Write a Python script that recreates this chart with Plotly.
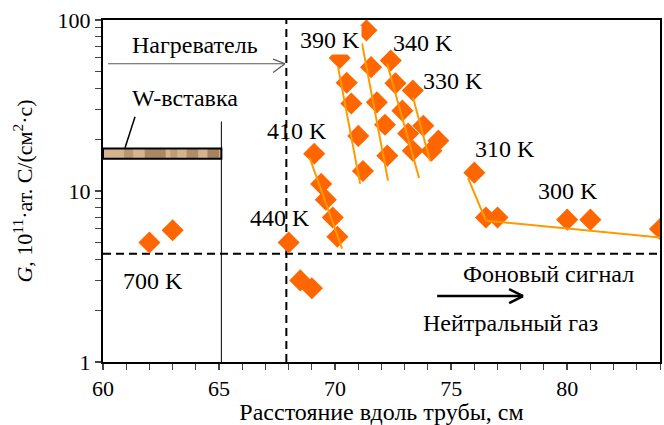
import math
import plotly.graph_objects as go

# ---------------- data ----------------
x_700 = [62.0, 63.0]
g_700 = [5.0, 5.9]

x_440 = [68.0, 68.5, 69.0]
g_440 = [5.0, 3.0, 2.7]

x_410 = [69.1, 69.4, 69.6, 69.9, 70.1]
g_410 = [16.5, 11.0, 8.9, 7.0, 5.4]

x_390 = [70.2, 70.5, 70.7, 71.0, 71.2]
g_390 = [60.0, 43.0, 32.5, 21.0, 13.1]

x_360 = [71.35, 71.55, 71.8, 72.15, 72.25]
g_360 = [87.0, 53.0, 33.0, 24.4, 16.1]

x_340 = [72.4, 72.6, 72.9, 73.15, 73.35]
g_340 = [58.0, 42.6, 29.5, 21.7, 17.2]

x_330 = [73.35, 73.8, 74.45, 74.15]
g_330 = [38.7, 24.1, 19.7, 17.2]

x_300 = [76.0, 76.5, 77.0, 80.0, 81.0, 84.0]
g_300 = [12.8, 7.0, 7.0, 6.8, 6.8, 6.0]

# fitted trend lines
fit_410_x = [68.9, 70.3]
fit_410_g = [15.7, 4.6]
fit_390_x = [70.13, 71.08]
fit_390_g = [52.8, 11.0]
fit_360_x = [71.16, 72.28]
fit_360_g = [73.0, 11.5]
fit_340_x = [72.24, 73.62]
fit_340_g = [55.7, 11.9]
fit_330_x = [73.36, 74.09]
fit_330_g = [35.2, 15.0]
fit_300_x = [75.73, 76.5, 84.0]
fit_300_g = [11.9, 6.7, 5.35]

# reference levels
background_level = 4.3
heater_end = 67.9
w_insert_end = 65.1
w_insert_low = 15.45
w_insert_high = 17.7

x_ticks = [60, 65, 70, 75, 80]
y_ticks = [1, 10, 100]
y_tick_text = ["1", "10", "100"]

labels = [
    ("390 K", 69.78, 76.0),
    ("340 K", 73.79, 73.0),
    ("330 K", 75.09, 44.2),
    ("410 K", 68.36, 22.5),
    ("440 K", 67.63, 6.96),
    ("310 K", 77.33, 17.7),
    ("300 K", 80.04, 10.0),
    ("700 K", 62.16, 2.97),
    ("Нагреватель", 63.97, 71.1),
    ("W-вставка", 63.53, 35.2),
    ("Фоновый сигнал", 79.18, 3.27),
    ("Нейтральный газ", 77.54, 1.69),
]

FONT = "Liberation Serif"
MARKER = "#FF6600"
LINE = "#FF9900"

fig = go.Figure()

for xs, gs in [(x_700, g_700), (x_440, g_440), (x_410, g_410), (x_390, g_390),
               (x_360, g_360), (x_340, g_340), (x_330, g_330), (x_300, g_300)]:
    fig.add_trace(go.Scatter(x=xs, y=gs, mode="markers",
                             marker=dict(symbol="diamond", size=17, color=MARKER,
                                         line=dict(width=0)),
                             showlegend=False, hoverinfo="x+y"))

for xs, gs in [(fit_410_x, fit_410_g), (fit_390_x, fit_390_g), (fit_360_x, fit_360_g),
               (fit_340_x, fit_340_g), (fit_330_x, fit_330_g), (fit_300_x, fit_300_g)]:
    fig.add_trace(go.Scatter(x=xs, y=gs, mode="lines",
                             line=dict(color=LINE, width=2),
                             showlegend=False, hoverinfo="skip"))

shapes = []
# dashed reference lines
shapes.append(dict(type="line", xref="x", yref="y", x0=60, x1=84,
                   y0=background_level, y1=background_level,
                   line=dict(color="black", width=2, dash="8px,5px"), layer="below"))
shapes.append(dict(type="line", xref="x", yref="y", x0=heater_end, x1=heater_end,
                   y0=1, y1=100,
                   line=dict(color="black", width=2, dash="8px,5px"), layer="below"))
# W insert
shapes.append(dict(type="line", xref="x", yref="y", x0=w_insert_end, x1=w_insert_end,
                   y0=1, y1=25.5, line=dict(color="black", width=1)))
shapes.append(dict(type="rect", xref="x", yref="y", x0=60, x1=w_insert_end,
                   y0=w_insert_low, y1=w_insert_high,
                   fillcolor="#D4B48E", line=dict(width=0)))
# wood-like streaks of the insert
for sx0, sx1, op in [(60.9, 61.3, 0.30), (61.8, 62.7, 0.45), (62.9, 63.2, 0.25),
                     (63.6, 64.1, 0.40), (64.5, 65.0, 0.50)]:
    shapes.append(dict(type="rect", xref="x", yref="y", x0=sx0, x1=sx1,
                       y0=w_insert_low, y1=w_insert_high,
                       fillcolor="#7A5230", opacity=op, line=dict(width=0)))
shapes.append(dict(type="rect", xref="x", yref="y", x0=60, x1=w_insert_end,
                   y0=w_insert_low, y1=w_insert_high,
                   fillcolor="rgba(0,0,0,0)", line=dict(color="black", width=2)))
shapes.append(dict(type="line", xref="x", yref="y", x0=61.38, x1=60.95,
                   y0=27.2, y1=17.9, line=dict(color="black", width=1.5)))
# heater arrow
shapes.append(dict(type="line", xref="x", yref="y", x0=60.22, x1=67.84, y0=55.5, y1=55.5,
                   line=dict(color="#555555", width=1.2)))
shapes.append(dict(type="line", xref="x", yref="y", x0=67.33, x1=67.84, y0=59.0, y1=55.5,
                   line=dict(color="#555555", width=1.2)))
shapes.append(dict(type="line", xref="x", yref="y", x0=67.33, x1=67.84, y0=49.3, y1=55.5,
                   line=dict(color="#555555", width=1.2)))
# neutral gas arrow
shapes.append(dict(type="line", xref="x", yref="y", x0=74.4, x1=78.1, y0=2.43, y1=2.43,
                   line=dict(color="black", width=2.5)))
shapes.append(dict(type="line", xref="x", yref="y", x0=77.5, x1=78.1, y0=2.67, y1=2.43,
                   line=dict(color="black", width=2.5)))
shapes.append(dict(type="line", xref="x", yref="y", x0=77.5, x1=78.1, y0=2.21, y1=2.43,
                   line=dict(color="black", width=2.5)))

annotations = []
for text, lx, ly in labels:
    ann = dict(text=text, x=lx, y=math.log10(ly), xref="x", yref="y",
               showarrow=False, font=dict(family=FONT, size=24, color="black"))
    if text == "390 K":
        ann["bgcolor"] = "white"
    annotations.append(ann)

fig.update_layout(
    width=664, height=425,
    margin=dict(l=103, r=4, t=20, b=63, autoexpand=False),
    paper_bgcolor="white", plot_bgcolor="white",
    font=dict(family=FONT, size=22, color="black"),
    shapes=shapes, annotations=annotations,
    showlegend=False,
)
fig.update_xaxes(range=[60, 84], tickvals=x_ticks, ticks="outside", ticklen=6, tickwidth=1.5,
                 showline=True, linewidth=2, linecolor="black", mirror=True,
                 showgrid=False, zeroline=False, automargin=False,
                 tickfont=dict(family=FONT, size=22),
                 minor=dict(ticks="outside", ticklen=6, tickwidth=1, dtick=1, showgrid=False),
                 title=dict(text="Расстояние вдоль трубы, см", standoff=3,
                            font=dict(family=FONT, size=24)))
fig.update_yaxes(type="log", range=[0, 2], tickvals=y_ticks, ticktext=y_tick_text,
                 ticks="outside", ticklen=6, tickwidth=1.5,
                 showline=True, linewidth=2, linecolor="black", mirror=True,
                 showgrid=False, zeroline=False, automargin=False,
                 tickfont=dict(family=FONT, size=22),
                 minor=dict(ticks="outside", ticklen=6, tickwidth=1, showgrid=False,
                            tickvals=[2, 3, 4, 5, 6, 7, 8, 9, 20, 30, 40, 50, 60, 70, 80, 90]),
                 title=dict(text="<i>G</i>, 10<sup>11</sup>·ат. C/(см<sup>2</sup>·с)",
                            standoff=19, font=dict(family=FONT, size=22)))

fig.write_html("out.html", config={"displayModeBar": False},
               post_script="document.body.style.margin='0';document.body.style.padding='0';")
